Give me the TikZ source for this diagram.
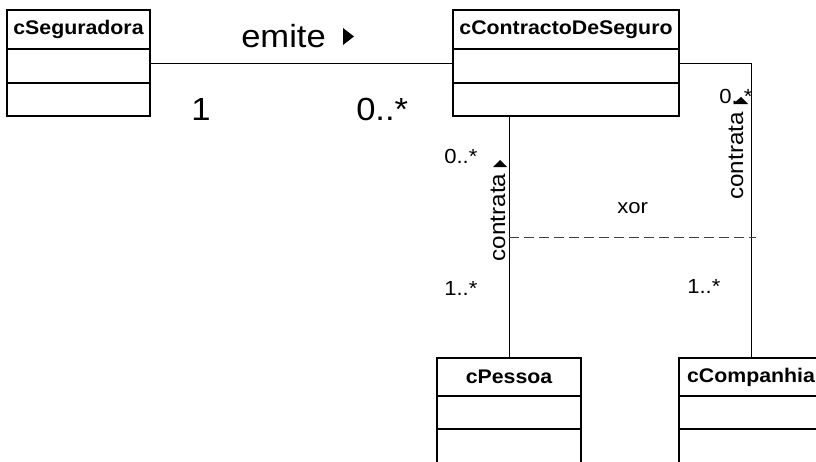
\documentclass[tikz,border=0pt]{standalone}
\usepackage{fontspec}
\setmainfont{Liberation Sans}[FakeStretch=1.08]
\begin{document}
\begin{tikzpicture}[x=0.75pt,y=-0.75pt,
  box/.style={draw,line width=1.1pt,inner sep=0pt,outer sep=0pt,anchor=north west},
  hdr/.style={box,font=\fontsize{14.8}{17}\selectfont\bfseries},
  comp/.style={draw,line width=1.1pt,inner sep=0pt,outer sep=0pt,anchor=north},
  conn/.style={line width=0.6pt},
  big/.style={font=\fontsize{24}{28}\selectfont,inner sep=0pt,anchor=base west},
  lbl/.style={font=\fontsize{15.3}{18}\selectfont,inner sep=0pt,anchor=base west},
  rot/.style={font=\fontsize{16.8}{19}\selectfont,inner sep=0pt,anchor=base,rotate=90},
  tri/.style={fill=black}]
\useasboundingbox (0,0) rectangle (816,461);
\clip (0,0) rectangle (816,461);
% cSeguradora
\node[hdr,minimum width=107.25pt,minimum height=29.25pt] (cs) at (7,10) {cSeguradora};
\node[comp,minimum width=107.25pt,minimum height=25.5pt] (cs1) at (cs.south) {};
\node[comp,minimum width=107.25pt,minimum height=24.75pt] (cs2) at (cs1.south) {};
% cContractoDeSeguro
\node[hdr,minimum width=169.5pt,minimum height=29.25pt] (cc) at (453,10) {cContractoDeSeguro};
\node[comp,minimum width=169.5pt,minimum height=25.5pt] (cc1) at (cc.south) {};
\node[comp,minimum width=169.5pt,minimum height=24.75pt] (cc2) at (cc1.south) {};
% cPessoa
\node[hdr,minimum width=108pt,minimum height=28.5pt] (cp) at (437,358) {cPessoa};
\node[comp,minimum width=108pt,minimum height=24.75pt] (cp1) at (cp.south) {};
\node[comp,minimum width=108pt,minimum height=30pt] (cp2) at (cp1.south) {};
% cCompanhia
\node[hdr,minimum width=108pt,minimum height=28.5pt] (cm) at (679,358) {cCompanhia};
\node[comp,minimum width=108pt,minimum height=24.75pt] (cm1) at (cm.south) {};
\node[comp,minimum width=108pt,minimum height=30pt] (cm2) at (cm1.south) {};
% connectors
\coordinate (rc) at (751,63);
\draw[conn] (cs1.east |- rc) -- (cc1.west |- rc);
\draw[conn] (cc1.east |- rc) -- (rc) -- (rc |- cm.north);
\coordinate (lc) at (509,0);
\draw[conn] (lc |- cc2.south) -- (lc |- cp.north);
\coordinate (xa) at (509,237);
\coordinate (xb) at (756,237);
\draw[conn,dash pattern=on 7.5pt off 3.75pt,black!75] (xa) -- (xb);
% labels
\node[big] (em) at (241,47) {emite};
\fill[tri] (343,28) -- (354,36.5) -- (343,45) -- cycle;
\node[big] (m1) at (191,120) {1};
\node[big] (m2) at (356,120) {0..*};
\node[lbl] (m3) at (444,163) {0..*};
\fill[tri] (493,167) -- (507,167) -- (500,160) -- cycle;
\node[rot] (ct1) at (505,217.5) {contrata};
\node[lbl] (m4) at (444,295) {1..*};
\node[lbl] (xo) at (617,213) {xor};
\node[lbl] (m5) at (719,103) {0..*};
\fill[tri] (733,104) -- (748,104) -- (741,97) -- cycle;
\node[rot] (ct2) at (743,156) {contrata};
\node[lbl] (m6) at (687,293) {1..*};
\end{tikzpicture}
\end{document}
